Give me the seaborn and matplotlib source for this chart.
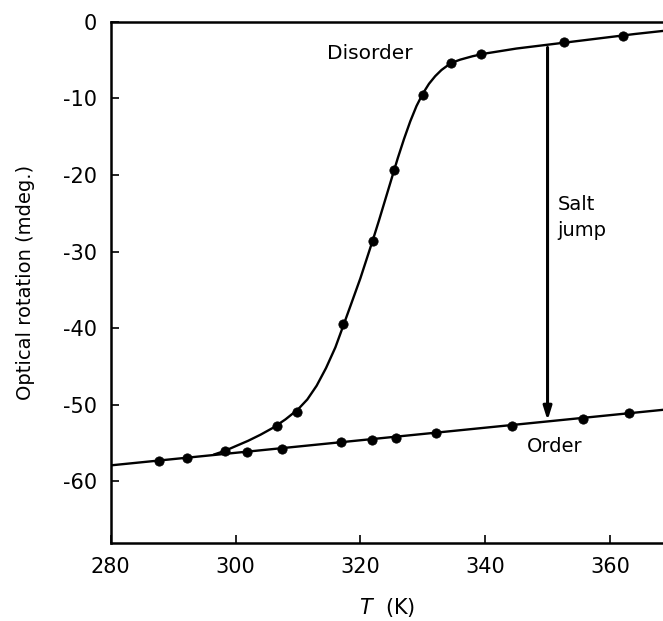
import matplotlib
matplotlib.use("Agg")
import matplotlib.pyplot as plt
import seaborn as sns

disorder_T = [298.3, 306.6, 309.9, 317.3, 322.1, 325.4, 330.1, 334.6, 339.4, 352.6, 362.1]
disorder_rot = [-56.0, -52.7, -50.9, -39.4, -28.6, -19.4, -9.5, -5.4, -4.2, -2.6, -1.8]
order_T = [287.7, 292.2, 301.8, 307.5, 316.9, 321.8, 325.7, 332.1, 344.3, 355.7, 363.0]
order_rot = [-57.3, -57.0, -56.1, -55.8, -54.9, -54.6, -54.3, -53.7, -52.7, -51.8, -51.1]

# hand-drawn curves
disorder_curve_T = [296.5, 298.3, 300, 302, 304, 306, 308, 310, 311.5, 313, 314.5, 316, 317.3,
                    318.5, 320, 321, 322, 323, 324, 325, 326, 327, 328, 329, 330, 331, 332,
                    333, 334, 335, 336, 338, 340, 345, 350, 355, 360, 364, 368.5]
disorder_curve_rot = [-56.5, -56.0, -55.4, -54.7, -53.9, -53.0, -51.9, -50.6, -49.3, -47.5,
                      -45.2, -42.5, -39.6, -36.9, -33.5, -31.0, -28.5, -25.9, -23.2, -20.5,
                      -17.8, -15.3, -13.0, -11.0, -9.4, -8.1, -7.1, -6.3, -5.7, -5.25, -4.95,
                      -4.5, -4.15, -3.5, -3.0, -2.5, -2.0, -1.6, -1.2]
order_curve_T = [280, 368.5]
order_curve_rot = [-57.9, -50.65]

# salt jump arrow
jump_T = 350
jump_from = -3.0
jump_to = -52.4

sns.set_style("ticks")
plt.rcParams['font.family'] = ['DejaVu Sans']
plt.rcParams['axes.unicode_minus'] = False

fig = plt.figure(figsize=(6.63, 6.21), dpi=100)
ax = fig.add_axes([0.167, 0.126, 0.833, 0.839])

sns.lineplot(x=disorder_curve_T, y=disorder_curve_rot, color="black", lw=1.7, ax=ax)
sns.lineplot(x=order_curve_T, y=order_curve_rot, color="black", lw=1.7, ax=ax)
sns.scatterplot(x=disorder_T, y=disorder_rot, color="black", s=45, edgecolor="black", ax=ax, zorder=3)
sns.scatterplot(x=order_T, y=order_rot, color="black", s=45, edgecolor="black", ax=ax, zorder=3)

ax.annotate("", xy=(jump_T, jump_to), xytext=(jump_T, jump_from),
            arrowprops=dict(arrowstyle="-|>,head_length=0.8,head_width=0.25",
                            color="black", lw=2.2))

ax.text(314.6, -4.1, "Disorder", fontsize=14.5, va="center", ha="left", color="black")
ax.text(351.6, -23.9, "Salt", fontsize=14, va="center", ha="left", color="black")
ax.text(351.6, -27.2, "jump", fontsize=14, va="center", ha="left", color="black")
ax.text(351.2, -55.5, "Order", fontsize=14, va="center", ha="center", color="black")

ax.set_xlim(280, 368.5)
ax.set_ylim(-68, 0)
ax.set_xticks([280, 300, 320, 340, 360])
ax.set_yticks([0, -10, -20, -30, -40, -50, -60])
ax.tick_params(direction="in", length=6, width=1.2, labelsize=15, pad=10,
               colors="black")
for s in ["left", "bottom", "top"]:
    ax.spines[s].set_linewidth(1.8)
    ax.spines[s].set_color("black")
ax.spines["right"].set_visible(False)

ax.set_ylabel("Optical rotation (mdeg.)", fontsize=14, labelpad=20, color="black")
ax.set_xlabel("$T$  (K)", fontsize=15, labelpad=14, color="black")

fig.savefig("out.png", dpi=100)
